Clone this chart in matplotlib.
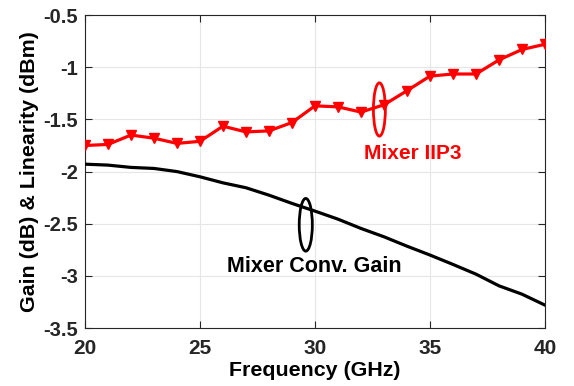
import matplotlib
matplotlib.use("Agg")
import matplotlib.pyplot as plt
from matplotlib.patches import Ellipse

plt.rcParams['font.family'] = ['Liberation Sans', 'DejaVu Sans']

freq = list(range(20, 41))
iip3 = [-1.75, -1.74, -1.65, -1.68, -1.73, -1.71, -1.565, -1.62, -1.61, -1.53,
        -1.37, -1.38, -1.43, -1.36, -1.225, -1.085, -1.065, -1.065, -0.93, -0.83, -0.78]
conv_gain = [-1.929, -1.938, -1.96, -1.97, -2.0, -2.05, -2.108, -2.155, -2.226, -2.305,
             -2.379, -2.456, -2.545, -2.625, -2.715, -2.80, -2.89, -2.983, -3.095, -3.175, -3.28]
xticks = [20, 25, 30, 35, 40]
yticks = [-3.5, -3, -2.5, -2, -1.5, -1, -0.5]
ytick_labels = ['-3.5', '-3', '-2.5', '-2', '-1.5', '-1', '-0.5']

fig = plt.figure(figsize=(5.74, 3.86), dpi=100)
ax = fig.add_axes([0.148, 0.150, 0.8015, 0.811])

ax.plot(freq, conv_gain, color='black', lw=2.3, zorder=3)
ax.plot(freq, iip3, color='red', lw=2.3, marker='v', markersize=7, zorder=4)

ax.set_xlim(20, 40)
ax.set_ylim(-3.5, -0.5)
ax.set_xticks(xticks)
ax.set_yticks(yticks)
ax.set_yticklabels(ytick_labels)
ax.grid(True, color='#e6e6e6', lw=0.8, zorder=0)
ax.set_axisbelow(True)
ax.tick_params(direction='in', length=5, width=0.8, top=True, right=True, colors='#262626')
ax.tick_params(axis='x', labelsize=15, pad=8)
ax.tick_params(axis='y', labelsize=14.5, pad=5)
for lab in ax.get_xticklabels() + ax.get_yticklabels():
    lab.set_fontweight('bold')
for s in ax.spines.values():
    s.set_color('#262626')
    s.set_linewidth(0.8)

ax.set_xlabel('Frequency (GHz)', fontsize=15.4, fontweight='bold', labelpad=2)
ax.set_ylabel('Gain (dB) & Linearity (dBm)', fontsize=15.4, fontweight='bold', labelpad=3)

ax.add_patch(Ellipse((32.8, -1.405), 0.52, 0.51, fill=False, edgecolor='red', lw=2, zorder=5))
ax.text(34.26, -1.83, 'Mixer IIP3', color='red', fontsize=15, fontweight='bold',
        ha='center', va='center', zorder=6)
ax.add_patch(Ellipse((29.6, -2.51), 0.57, 0.505, fill=False, edgecolor='black', lw=2, zorder=5))
ax.text(29.96, -2.906, 'Mixer Conv. Gain', color='black', fontsize=15.5, fontweight='bold',
        ha='center', va='center', zorder=6)

fig.savefig('out.png', dpi=100)
